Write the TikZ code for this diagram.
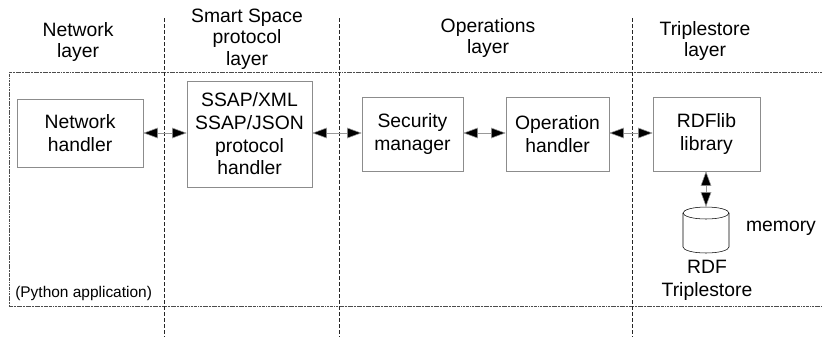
\documentclass[tikz,border=0pt]{standalone}
\usepackage{fontspec}
\setmainfont{Liberation Sans}
\usetikzlibrary{positioning}
\usetikzlibrary{arrows.meta,shapes.geometric}
\definecolor{boxgray}{gray}{0.55}
\definecolor{linegray}{gray}{0.6}
\tikzstyle{module}=[rectangle,draw=boxgray,fill=white,align=center,inner sep=0pt,font=\fontsize{14.5}{17}\selectfont]
\tikzstyle{layertitle}=[align=center,inner sep=0pt,font=\fontsize{14.5}{16}\selectfont]
\tikzstyle{plain}=[align=center,inner sep=0pt,font=\fontsize{14.5}{17}\selectfont]
\tikzstyle{link} = [draw,linegray,{Triangle[length=11pt,width=8pt,fill=black]}-{Triangle[length=11pt,width=8pt,fill=black]}]
\tikzstyle{layerline} = [draw,black!85,semithick,dash pattern=on 3pt off 1.5pt]
\tikzstyle{appframe} = [draw,black!70,dash pattern=on 1.8pt off 0.5pt on 0.6pt off 0.5pt]

\begin{document}
\begin{tikzpicture}[x=0.75pt,y=-0.75pt]
    \useasboundingbox (0,0) rectangle (822,337);

    % python application frame, open to the right
    \path[appframe] (822,72) -- (9,72) -- (9,306) -- (822,306);
    \node[anchor=west,inner sep=0pt,font=\fontsize{11.6}{14}\selectfont] (python) at (15,293) {(Python application)};

    % layer borders
    \foreach \xpos/\name in {164/bordera, 339/borderb, 632/borderc} {
        \coordinate (\name top) at (\xpos,18);
        \coordinate (\name bottom) at (\xpos,337);
        \path[layerline] (\name top) -- (\name bottom);
    }

    \foreach \pos/\name/\txt in {{(78,42)/netlayer/Network\\layer}, {(247,39)/ssaplayer/Smart Space\\protocol\\layer}, {(488,38)/oplayer/Operations\\layer}, {(705,41)/storelayer/Triplestore\\layer}}
        \node[layertitle] (\name) at \pos {\txt};

    \foreach \pos/\name/\boxw/\boxh/\txt in {{(80,133)/net/94.5pt/51pt/Network\\handler}, {(249.5,134)/ssap/93.75pt/79.5pt/{SSAP/XML\\SSAP/JSON\\protocol\\handler}}, {(412.5,134)/sec/75.75pt/55.5pt/Security\\manager}, {(557.5,134)/op/77.25pt/55.5pt/Operation\\handler}, {(706.5,134)/rdflib/80.25pt/55.5pt/RDFlib\\library}}
        \node[module,minimum width=\boxw,minimum height=\boxh] (\name) at \pos {\txt};

    % triplestore drum
    \node[inner sep=0pt,minimum width=34.5pt,minimum height=34.5pt] (store) at (706,230) {};
    \draw (706,213) ellipse [x radius=23, y radius=6];
    \draw (683,213) -- (683,247) arc[start angle=180, end angle=0, x radius=23, y radius=6] -- (729,213);
    \node[plain] (memory) at (781,228) {memory};
    \node[plain] (storename) at (707,280.5) {RDF\\Triplestore};

    \foreach \source/\dest in {net/ssap, ssap/sec, sec/op, op/rdflib}
        \path[link] (\source.east |- 0,133) -- (\dest.west |- 0,133);

    \path[link] (rdflib.south -| store.north) -- (store.north);

\end{tikzpicture}
\end{document}
